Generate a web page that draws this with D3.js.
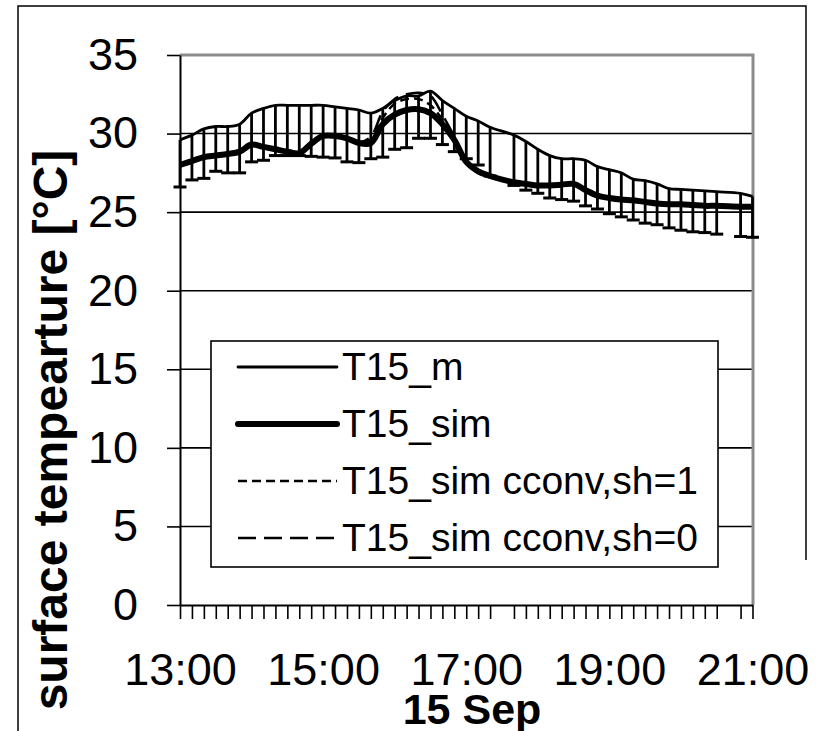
<!DOCTYPE html>
<html>
<head>
<meta charset="utf-8">
<script src="https://cdn.jsdelivr.net/npm/d3@7"></script>
<style>
  body { margin: 0; background: #fff; }
  svg { display: block; }
  text { font-family: "Liberation Sans", Arial, sans-serif; fill: #000; }
</style>
</head>
<body>
<svg width="822" height="731"></svg>
<script>
// measurement times (17:30 and 20:40 are missing in the record)
const times = ['13:00','13:10','13:20','13:30','13:40','13:50','14:00','14:10','14:20','14:30',
               '14:40','14:50','15:00','15:10','15:20','15:30','15:40','15:50','16:00','16:10',
               '16:20','16:30','16:40','16:50','17:00','17:10','17:20','17:40','17:50','18:00',
               '18:10','18:20','18:30','18:40','18:50','19:00','19:10','19:20','19:30','19:40',
               '19:50','20:00','20:10','20:20','20:30','20:50','21:00'];

// measured surface temperature and lower end of its error bar
const t15m = [29.6, 29.9, 30.3, 30.45, 30.45, 30.6, 31.3, 31.6, 31.8, 31.8,
              31.8, 31.8, 31.8, 31.7, 31.6, 31.5, 31.3, 31.6, 32.1, 32.4,
              32.4, 32.7, 32.1, 31.6, 31.1, 30.8, 30.4, 29.9, 29.5, 29.0,
              28.6, 28.4, 28.4, 28.3, 27.9, 27.7, 27.5, 27.1, 27.0, 26.8,
              26.5, 26.45, 26.4, 26.35, 26.3, 26.2, 26.0];
const t15mLow = [26.6, 27.05, 27.15, 27.6, 27.5, 27.5, 28.2, 28.3, 28.6, 28.6,
                 28.6, 28.55, 28.5, 28.45, 28.2, 28.15, 28.4, 28.5, 29.0, 29.1,
                 29.7, 29.7, 29.3, 28.85, 28.4, 28.0, 27.3, 26.7, 26.4, 26.2,
                 25.9, 25.8, 25.7, 25.4, 25.2, 24.9, 24.7, 24.5, 24.3, 24.2,
                 24.0, 23.85, 23.75, 23.7, 23.6, 23.45, 23.4];

// simulations
const t15sim = [28.0, 28.25, 28.5, 28.6, 28.7, 28.85, 29.3, 29.15, 29.0, 28.85,
                28.75, 29.35, 29.85, 29.85, 29.7, 29.4, 29.4, 30.6, 31.2, 31.5,
                31.55, 31.3, 30.6, 29.6, 28.2, 27.6, 27.3, 26.9, 26.8, 26.7,
                26.7, 26.75, 26.8, 26.4, 26.05, 25.9, 25.8, 25.75, 25.65, 25.55,
                25.5, 25.5, 25.45, 25.4, 25.4, 25.35, 25.35];
const simSh1 = [28.05, 28.3, 28.5, 28.6, 28.75, 28.9, 29.3, 29.2, 29.05, 28.9,
                28.8, 29.4, 29.85, 29.9, 29.75, 29.45, 29.6, 31.0, 31.9, 32.2,
                32.2, 31.8, 30.9, 29.7, 28.1, 27.5, 27.2, 26.85, 26.75, 26.65,
                26.65, 26.7, 26.75, 26.35, 26.0, 25.85, 25.75, 25.7, 25.6, 25.5,
                25.45, 25.45, 25.4, 25.35, 25.35, 25.3, 25.3];
const simSh0 = [28.0, 28.25, 28.45, 28.6, 28.7, 28.85, 29.25, 29.15, 29.0, 28.85,
                28.75, 29.3, 29.8, 29.85, 29.7, 29.45, 29.8, 31.4, 32.2, 32.5,
                32.6, 32.4, 31.2, 29.8, 28.2, 27.55, 27.25, 26.9, 26.8, 26.7,
                26.7, 26.75, 26.8, 26.4, 26.05, 25.9, 25.8, 25.75, 25.65, 25.55,
                25.5, 25.5, 25.45, 25.4, 25.4, 25.35, 25.35];

const yTicks = [0, 5, 10, 15, 20, 25, 30, 35];
const xLabels = ['13:00', '15:00', '17:00', '19:00', '21:00'];
const legendLabels = ['T15_m', 'T15_sim', 'T15_sim cconv,sh=1', 'T15_sim cconv,sh=0'];

const svg = d3.select('svg');
const margin = { top: 55, right: 69, bottom: 126, left: 180 };
const width = +svg.attr('width');
const height = +svg.attr('height');
const innerWidth = width - margin.left - margin.right;
const innerHeight = height - margin.top - margin.bottom;

const toMin = s => { const [h, m] = s.split(':').map(Number); return (h - 13) * 60 + m; };
const mins = times.map(toMin);

const x = d3.scaleLinear().domain([0, 480]).range([0, innerWidth - 0.5]);
const y = d3.scaleLinear().domain([0, 35]).range([innerHeight, 0]);

// outer frame
svg.append('path')
  .attr('d', `M18,${height} V6 H806 V560`)
  .attr('fill', 'none').attr('stroke', '#000').attr('stroke-width', 1.5);

const g = svg.append('g').attr('transform', `translate(${margin.left},${margin.top})`);

// grid lines
g.selectAll('.grid').data(yTicks.filter(d => d > 0 && d < 35))
  .enter().append('line')
    .attr('x1', 0).attr('x2', innerWidth)
    .attr('y1', d => y(d)).attr('y2', d => y(d))
    .attr('stroke', '#000').attr('stroke-width', 1.6);

// plot area border (top and right)
g.append('path')
  .attr('d', `M0,${y(35)} H${innerWidth} V${innerHeight}`)
  .attr('fill', 'none').attr('stroke', '#8c8c8c').attr('stroke-width', 3);

// error bars of the measurement
const bars = g.append('g');
mins.forEach((m, i) => {
  bars.append('line')
    .attr('x1', x(m)).attr('x2', x(m))
    .attr('y1', y(t15m[i])).attr('y2', y(t15mLow[i]))
    .attr('stroke', '#000').attr('stroke-width', 2.8);
  bars.append('line')
    .attr('x1', x(m) - 6.5).attr('x2', x(m) + 6.5)
    .attr('y1', y(t15mLow[i])).attr('y2', y(t15mLow[i]))
    .attr('stroke', '#000').attr('stroke-width', 3);
});

const line = vals => d3.line()
  .x((d, i) => x(mins[i]))
  .y(d => y(d))
  .curve(d3.curveCatmullRom.alpha(0.5))(vals);

const styles = [
  { vals: t15m,   w: 2.8, dash: null },
  { vals: t15sim, w: 6, dash: null },
  { vals: simSh1, w: 2.5, dash: '9,5' },
  { vals: simSh0, w: 2.5, dash: '18,8' }
];

[styles[2], styles[3], styles[0], styles[1]].forEach(s => {
  g.append('path')
    .attr('d', line(s.vals))
    .attr('fill', 'none')
    .attr('stroke', '#000')
    .attr('stroke-width', s.w)
    .attr('stroke-linejoin', 'round')
    .attr('stroke-dasharray', s.dash);
});

// axes
const yAxis = d3.axisLeft(y).tickValues(yTicks).tickSize(13).tickSizeOuter(0).tickPadding(29);
const xAxis = d3.axisBottom(x).tickValues(mins).tickSize(14).tickSizeOuter(0).tickPadding(34)
  .tickFormat((d, i) => xLabels.includes(times[i]) ? times[i] : '');

const yG = g.append('g').call(yAxis);
yG.select('.domain').attr('stroke-width', 2);
yG.selectAll('.tick line').attr('stroke-width', 1.6);
yG.selectAll('text').style('font-size', '45px');

const xG = g.append('g').attr('transform', `translate(0,${innerHeight})`).call(xAxis);
xG.select('.domain').attr('stroke-width', 2);
xG.selectAll('.tick line').attr('stroke-width', 1.6);
xG.selectAll('text').style('font-size', '45px');

// axis titles
svg.append('text')
  .attr('transform', 'translate(67,430) rotate(-90)')
  .attr('text-anchor', 'middle')
  .style('font-size', '48px').style('font-weight', 'bold')
  .text('surface tempearture [°C]');

svg.append('text')
  .attr('x', 472).attr('y', 724)
  .attr('text-anchor', 'middle')
  .style('font-size', '43px').style('font-weight', 'bold')
  .text('15 Sep');

// legend
const legend = svg.append('g');
legend.append('rect')
  .attr('x', 211).attr('y', 341).attr('width', 507).attr('height', 226)
  .attr('fill', '#fff').attr('stroke', '#000').attr('stroke-width', 1.6);

const rowY = d3.scalePoint().domain(legendLabels).range([367, 538]);
legendLabels.forEach((lab, i) => {
  const s = styles[i];
  legend.append('line')
    .attr('x1', 238).attr('x2', 337)
    .attr('y1', rowY(lab)).attr('y2', rowY(lab))
    .attr('stroke', '#000').attr('stroke-width', s.w)
    .attr('stroke-linecap', s.dash ? 'butt' : 'round')
    .attr('stroke-dasharray', s.dash);
  legend.append('text')
    .attr('x', 342).attr('y', rowY(lab) + 13)
    .style('font-size', '39px')
    .text(lab);
});
</script>
</body>
</html>
